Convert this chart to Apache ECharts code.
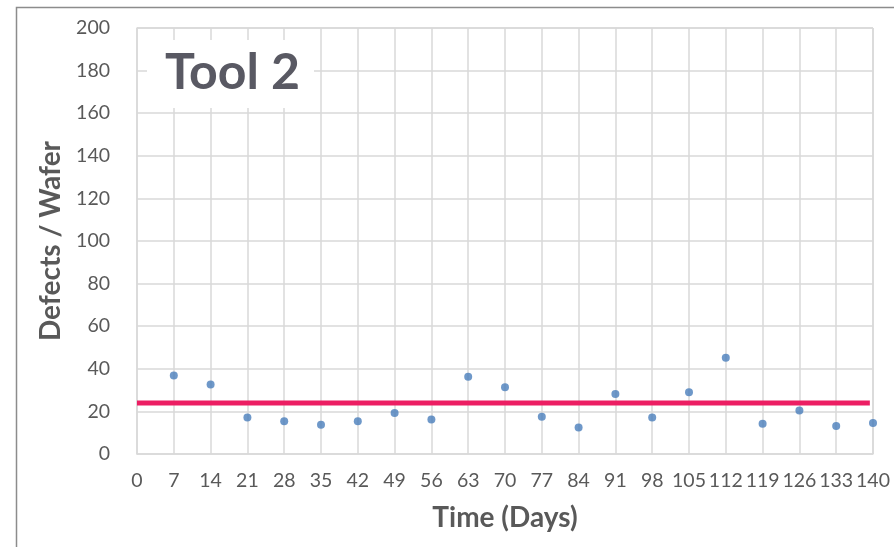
<!DOCTYPE html>
<html>
<head>
<meta charset="utf-8">
<script src="https://cdn.jsdelivr.net/npm/echarts@6/dist/echarts.min.js"></script>
<style>
  html, body { margin: 0; padding: 0; background: #ffffff; }
  #chart { width: 894px; height: 547px; }
</style>
</head>
<body>
<div id="chart"></div>
<script>
// Sampling days and defect counts per wafer for Tool 2
const days = [7, 14, 21, 28, 35, 42, 49, 56, 63, 70, 77, 84, 91, 98, 105, 112, 119, 126, 133, 140];
const defects = [36.9, 32.6, 17.1, 15.4, 13.7, 15.4, 19.2, 16.2, 36.3, 31.3, 17.5, 12.5, 28.2, 17.1, 29.0, 45.2, 14.2, 20.4, 13.1, 14.5];
// Average level drawn as a horizontal band across the period
const meanDays = [0, 139.4];
const meanValue = 24;

const textColor = '#595959';
const gridColor = '#d9d9d9';
const fontFamily = 'Lato, "Open Sans", sans-serif';

const chart = echarts.init(document.getElementById('chart'));
chart.setOption({
  backgroundColor: '#ffffff',
  animation: false,
  title: {
    text: 'Tool 2',
    left: 147,
    top: 40,
    padding: [8, 14, 10, 18],
    backgroundColor: '#ffffff',
    textStyle: { fontFamily, fontWeight: 'bold', fontSize: 50, color: '#595963' }
  },
  grid: { left: 137, right: 21, top: 28, bottom: 93, containLabel: false },
  xAxis: {
    type: 'value',
    min: 0, max: 140, interval: 7,
    name: 'Time (Days)',
    nameLocation: 'middle',
    nameGap: 50,
    nameTextStyle: { fontFamily, fontWeight: 'bold', fontSize: 28, color: textColor },
    axisLine: { show: true, lineStyle: { color: gridColor, width: 1.5 } },
    axisTick: { show: false },
    axisLabel: { margin: 17, fontFamily, fontSize: 19.5, color: textColor },
    splitLine: { show: true, lineStyle: { color: gridColor, width: 1.5 } }
  },
  yAxis: {
    type: 'value',
    min: 0, max: 200, interval: 20,
    name: 'Defects / Wafer',
    nameLocation: 'middle',
    nameGap: 68,
    nameTextStyle: { fontFamily, fontWeight: 'bold', fontSize: 28, color: textColor },
    axisLine: { show: true, lineStyle: { color: gridColor, width: 1.5 } },
    axisTick: { show: false },
    axisLabel: { margin: 27, fontFamily, fontSize: 19.5, color: textColor },
    splitLine: { show: true, lineStyle: { color: gridColor, width: 1.5 } }
  },
  graphic: [{
    type: 'rect',
    left: 14, top: 5,
    shape: { width: 900, height: 600 },
    style: { fill: 'none', stroke: '#8c8c8c', lineWidth: 1.5 },
    silent: true
  }, {
    type: 'line',
    shape: { x1: 873, y1: 28, x2: 873, y2: 454 },
    style: { stroke: gridColor, lineWidth: 1.5 },
    silent: true
  }, {
    type: 'line',
    shape: { x1: 137, y1: 28, x2: 873, y2: 28 },
    style: { stroke: gridColor, lineWidth: 1.5 },
    silent: true
  }],
  series: [{
    type: 'line',
    data: meanDays.map(d => [d, meanValue]),
    symbol: 'none',
    lineStyle: { color: '#ec1e63', width: 5 },
    z: 2
  }, {
    type: 'scatter',
    data: days.map((d, i) => [d, defects[i]]),
    symbol: 'circle',
    symbolSize: 8,
    itemStyle: { color: '#4a7ebb' },
    z: 3
  }]
});
</script>
</body>
</html>
